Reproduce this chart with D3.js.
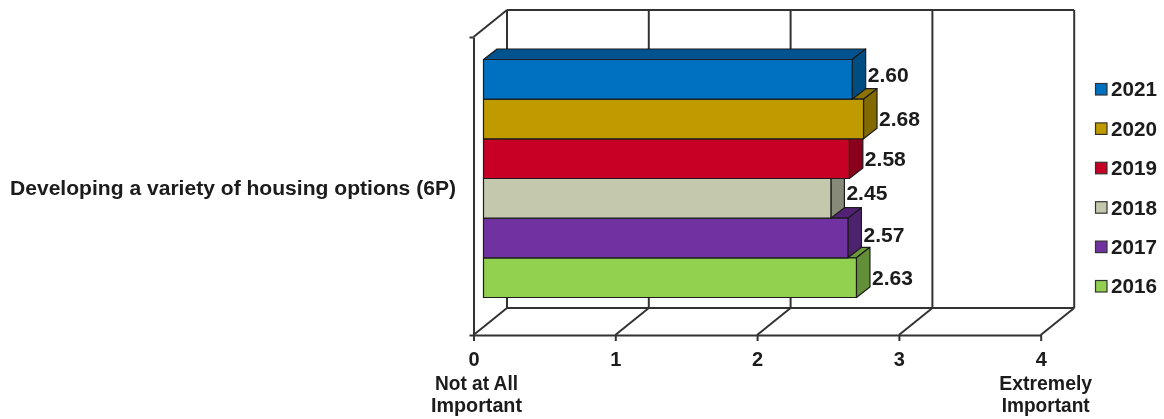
<!doctype html>
<html>
<head>
<title>Developing a variety of housing options</title>
<script src="https://d3js.org/d3.v7.min.js"></script>
<style>
  html, body { margin: 0; padding: 0; background: #fff; }
  svg { display: block; }
  text { font-family: "Liberation Sans", Arial, sans-serif; font-weight: bold; fill: #1a1a1a; }
  .grid { stroke: #333; stroke-width: 2; fill: none; }
</style>
</head>
<body>
<svg id="chart" width="1164" height="419"></svg>
<script>
const category = "Developing a variety of housing options (6P)";
const years = ["2021", "2020", "2019", "2018", "2017", "2016"];
const values = [2.60, 2.68, 2.58, 2.45, 2.57, 2.63];
const colors = ["#0070c0", "#bf9b00", "#c80028", "#c4c9ae", "#7030a0", "#92d050"];
const ticks = [0, 1, 2, 3, 4];
const endLabels = [["Not at All", "Important"], null, null, null, ["Extremely", "Important"]];
const endLabelWidths = [[83, 91], null, null, null, [93, 88]];
// hand nudges so the value labels sit as in the original
const labelShift = [-4, 0, 1, -5.5, -3, 1];

const svg = d3.select("#chart");

// front plane of the 3d box
const x = d3.scaleLinear().domain([0, 4]).range([473.5, 1040.7]);
const depthX = 33.5, depthY = 27;
// the bars stand a bit behind the front plane
const barX = d => x(d) + 10;
const barDX = 13.5, barDY = 10.5;
const y = d3.scaleBand().domain(years).range([59.5, 297.5]);
const side = d3.scaleLinear().domain([0, 1]).range([335, 37]);

const blur = svg.append("defs").append("filter").attr("id", "soft");
blur.append("feGaussianBlur").attr("stdDeviation", 0.55);

const g = svg.append("g").attr("filter", "url(#soft)");

// back wall
const backTop = side(1) - depthY, backBottom = side(0) - depthY;
ticks.forEach(t => {
  g.append("line").attr("class", "grid")
    .attr("x1", x(t) + depthX).attr("x2", x(t) + depthX)
    .attr("y1", backTop).attr("y2", backBottom);
  g.append("line").attr("class", "grid")
    .attr("x1", x(t)).attr("y1", side(0))
    .attr("x2", x(t) + depthX).attr("y2", backBottom);
});
g.append("line").attr("class", "grid")
  .attr("x1", x(0) + depthX).attr("x2", x(4) + depthX)
  .attr("y1", backTop).attr("y2", backTop);
g.append("line").attr("class", "grid")
  .attr("x1", x(0) + depthX).attr("x2", x(4) + depthX)
  .attr("y1", backBottom).attr("y2", backBottom);
g.append("line").attr("class", "grid")
  .attr("x1", x(0)).attr("y1", side(1))
  .attr("x2", x(0) + depthX).attr("y2", backTop);

// front axes
const xAxis = g.append("g").attr("transform", `translate(0,${side(0)})`)
  .call(d3.axisBottom(x).tickValues(ticks).tickFormat(d3.format("d")).tickSize(6).tickPadding(11).tickSizeOuter(0));
xAxis.select(".domain").attr("stroke", "#333").attr("stroke-width", 2);
xAxis.selectAll("line").attr("stroke", "#333").attr("stroke-width", 2);
xAxis.selectAll("text").attr("font-size", 20).attr("font-family", "Liberation Sans").attr("fill", "#1a1a1a");

const yAxis = g.append("g").attr("transform", `translate(${x(0)},0)`)
  .call(d3.axisLeft(side).tickValues([0, 1]).tickFormat("").tickSize(4).tickSizeOuter(0));
yAxis.select(".domain").attr("stroke", "#333").attr("stroke-width", 2);
yAxis.selectAll("line").attr("stroke", "#333").attr("stroke-width", 2);

// bars, drawn bottom to top so upper front faces cover the lower tops
const order = d3.range(years.length).reverse();
order.forEach(i => {
  const x0 = barX(0), x1 = barX(values[i]);
  const top = y(years[i]), bot = top + y.bandwidth();
  const c = d3.color(colors[i]);
  const bar = g.append("g").attr("stroke", "#1c1c1c").attr("stroke-width", 1.2).attr("stroke-linejoin", "round");
  bar.append("polygon")
    .attr("points", [[x0, top], [x0 + barDX, top - barDY], [x1 + barDX, top - barDY], [x1, top]].join(" "))
    .attr("fill", c.darker(0.85));
  bar.append("polygon")
    .attr("points", [[x1, top], [x1 + barDX, top - barDY], [x1 + barDX, bot - barDY], [x1, bot]].join(" "))
    .attr("fill", c.darker(1.05));
  bar.append("rect")
    .attr("x", x0).attr("y", top)
    .attr("width", x1 - x0).attr("height", bot - top)
    .attr("fill", colors[i]);
});

// value labels
values.forEach((v, i) => {
  g.append("text")
    .attr("x", barX(v) + barDX + 2)
    .attr("y", y(years[i]) + y.bandwidth() / 2 + labelShift[i] - 0.5)
    .attr("dy", "0.35em")
    .attr("font-size", 20.5)
    .attr("textLength", 41).attr("lengthAdjust", "spacingAndGlyphs")
    .text(v.toFixed(2));
});

// category label, the original is stretched sideways
g.append("text")
  .attr("x", 10).attr("y", 188).attr("dy", "0.35em")
  .attr("font-size", 20)
  .attr("textLength", 446).attr("lengthAdjust", "spacingAndGlyphs")
  .text(category);

// end-of-scale captions
endLabels.forEach((lines, i) => {
  if (!lines) return;
  const cx = x(ticks[i]) + (i === 0 ? 3 : 5);
  lines.forEach((s, k) => {
    g.append("text")
      .attr("x", cx).attr("y", 389.5 + k * 22)
      .attr("text-anchor", "middle").attr("font-size", 19.5)
      .attr("textLength", endLabelWidths[i][k]).attr("lengthAdjust", "spacingAndGlyphs")
      .text(s);
  });
});

// legend
const legendY = d3.scalePoint().domain(years).range([89, 286]);
years.forEach((yr, i) => {
  g.append("rect")
    .attr("x", 1095.5).attr("y", legendY(yr) - 5.5)
    .attr("width", 11.5).attr("height", 11.5)
    .attr("fill", colors[i]).attr("stroke", "#333").attr("stroke-width", 1.2);
  g.append("text")
    .attr("x", 1111).attr("y", legendY(yr)).attr("dy", "0.35em")
    .attr("font-size", 21)
    .attr("textLength", 46).attr("lengthAdjust", "spacingAndGlyphs")
    .text(yr);
});
</script>
</body>
</html>
